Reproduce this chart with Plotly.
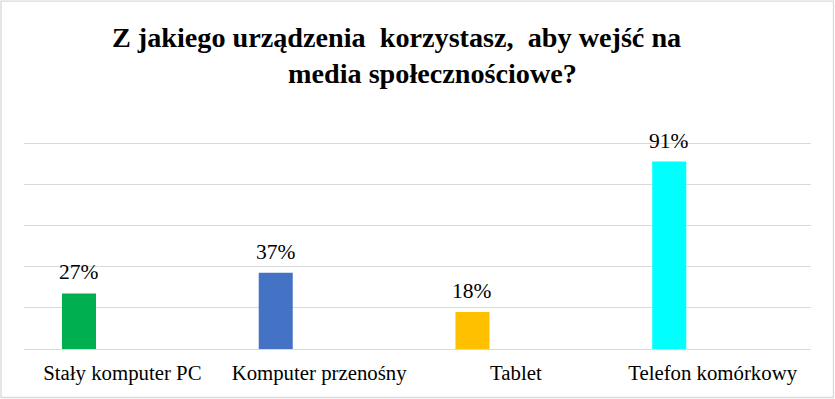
import plotly.graph_objects as go

categories = ["Stały komputer PC", "Komputer przenośny", "Tablet", "Telefon komórkowy"]
values = [27, 37, 18, 91]
value_labels = ["27%", "37%", "18%", "91%"]
colors = ["#00B050", "#4472C4", "#FFC000", "#00FFFF"]
title_line1 = "Z jakiego urządzenia  korzystasz,  aby wejść na"
title_line2 = "media społecznościowe?"

FONT = "Liberation Serif"
W, H = 835, 399
YMAX = 101.0
PX_PER_UNIT = 2.06
ML, MR, MB = 24, 24, 50
PH = PX_PER_UNIT * YMAX
MT = H - MB - PH
PW = W - ML - MR

BAR_OFFSET = -0.307
BAR_WIDTH = 0.173

fig = go.Figure()
fig.add_trace(go.Bar(
    x=list(range(len(categories))),
    y=values,
    marker=dict(color=colors, line=dict(width=0)),
    width=BAR_WIDTH,
    offset=BAR_OFFSET,
    hoverinfo="skip",
))

annotations = []
for i, (v, t) in enumerate(zip(values, value_labels)):
    annotations.append(dict(
        x=i + BAR_OFFSET + BAR_WIDTH / 2, y=v, xref="x", yref="y",
        text=t, showarrow=False, yanchor="bottom", yshift=7,
        font=dict(family=FONT, size=21.5, color="#000000"),
    ))

def py(ypx):
    return (H - MB - ypx) / PH

def px(xpx):
    return (xpx - ML) / PW

annotations.append(dict(
    x=px(396.7), y=py(37.5), xref="paper", yref="paper", text="<b>" + title_line1 + "</b>",
    showarrow=False, xanchor="center", yanchor="middle",
    font=dict(family=FONT, size=28.2, color="#000000"),
))
annotations.append(dict(
    x=px(432), y=py(73), xref="paper", yref="paper", text="<b>" + title_line2 + "</b>",
    showarrow=False, xanchor="center", yanchor="middle",
    font=dict(family=FONT, size=28.2, color="#000000"),
))

fig.update_layout(
    width=W, height=H,
    margin=dict(l=ML, r=MR, t=MT, b=MB, pad=0),
    paper_bgcolor="#FFFFFF", plot_bgcolor="#FFFFFF",
    showlegend=False,
    annotations=annotations,
    xaxis=dict(
        tickmode="array", tickvals=list(range(len(categories))), ticktext=categories,
        range=[-0.5, len(categories) - 0.5],
        showgrid=False, zeroline=False, showline=False, ticks="",
        tickfont=dict(family=FONT, size=20.8, color="#000000"),
        ticklabelstandoff=9,
    ),
    yaxis=dict(
        range=[0, YMAX], tickmode="array", tickvals=[20, 40, 60, 80, 100], showticklabels=False,
        showgrid=True, gridcolor="#D9D9D9", gridwidth=1.3,
        zeroline=True, zerolinecolor="#D9D9D9", zerolinewidth=1.3,
        showline=False, ticks="",
    ),
    shapes=[dict(
        type="rect", xref="paper", yref="paper",
        x0=px(1), x1=px(833.5), y0=py(397.5), y1=py(1),
        line=dict(color="#D9D9D9", width=1.3), fillcolor="rgba(0,0,0,0)", layer="above",
    )],
)

fig.write_html("out.html", config={"displayModeBar": False},
               post_script="document.body.style.margin='0';document.body.style.overflow='hidden';")
